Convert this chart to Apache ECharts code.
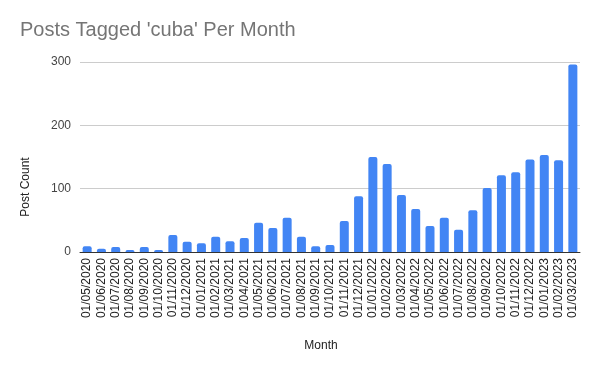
<!DOCTYPE html>
<html>
<head>
<meta charset="utf-8">
<script src="https://cdn.jsdelivr.net/npm/echarts@6/dist/echarts.min.js"></script>
<style>html,body{margin:0;padding:0;background:#fff}#c{width:600px;height:371px}</style>
</head>
<body>
<div id="c"></div>
<script>
const months = ['01/05/2020','01/06/2020','01/07/2020','01/08/2020','01/09/2020','01/10/2020','01/11/2020','01/12/2020',
'01/01/2021','01/02/2021','01/03/2021','01/04/2021','01/05/2021','01/06/2021','01/07/2021','01/08/2021','01/09/2021','01/10/2021','01/11/2021','01/12/2021',
'01/01/2022','01/02/2022','01/03/2022','01/04/2022','01/05/2022','01/06/2022','01/07/2022','01/08/2022','01/09/2022','01/10/2022','01/11/2022','01/12/2022',
'01/01/2023','01/02/2023','01/03/2023'];
const postCount = [9,5,8,3,8,3,27,16,14,24,17,22,46,38,54,24,9,11,49,88,150,139,90,68,41,54,35,66,101,121,126,146,153,145,296];
const yTicks = [0,100,200,300];

const chart = echarts.init(document.getElementById('c'));
const font = 'Arial, "Liberation Sans", sans-serif';
chart.setOption({
  animation: false,
  title: {
    text: "Posts Tagged 'cuba' Per Month",
    left: 20, top: 20, padding: 0,
    textStyle: {fontFamily: font, fontSize: 20, fontWeight: 'normal', color: '#757575'}
  },
  grid: {left: 80, right: 20, top: 62, bottom: 119},
  xAxis: {
    type: 'category',
    data: months,
    name: 'Month',
    nameLocation: 'middle',
    nameGap: 88,
    nameTextStyle: {fontFamily: font, fontSize: 12, color: '#222', padding: [0, 18, 0, 0]},
    axisLine: {lineStyle: {color: '#333', width: 1}},
    axisTick: {show: false},
    axisLabel: {rotate: 90, interval: 0, margin: 6, fontFamily: font, fontSize: 12, color: '#222'}
  },
  yAxis: {
    type: 'value',
    min: yTicks[0], max: yTicks[yTicks.length - 1], interval: 100,
    name: 'Post Count',
    nameLocation: 'middle',
    nameGap: 48,
    nameTextStyle: {fontFamily: font, fontSize: 12, color: '#222', padding: [0, 60, 0, 0]},
    axisLine: {show: false},
    axisTick: {show: false},
    axisLabel: {margin: 9, fontFamily: font, fontSize: 12, color: '#444'},
    splitLine: {lineStyle: {color: '#cccccc', width: 1}}
  },
  series: [{
    type: 'bar',
    data: postCount,
    barWidth: 9,
    itemStyle: {color: '#4285F4', borderRadius: [2, 2, 0, 0]}
  }]
});
</script>
</body>
</html>
